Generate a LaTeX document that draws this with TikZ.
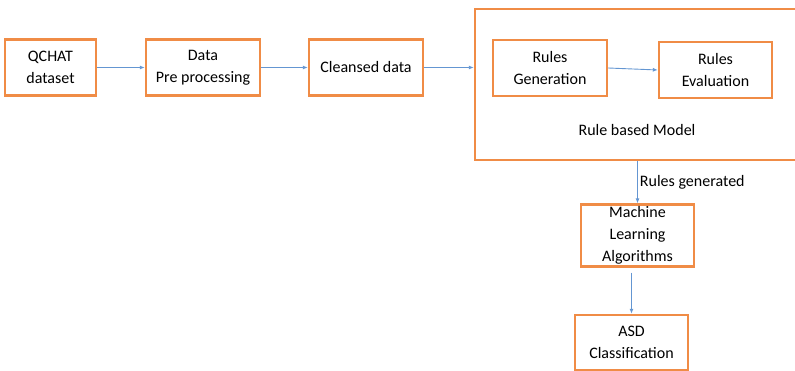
\documentclass[tikz,border=0pt]{standalone}
\usepackage{fontspec}
\setmainfont{Carlito}
\usepackage{tikz}
\usepackage{xcolor}
\usetikzlibrary{arrows.meta}

\definecolor{boxorange}{RGB}{240,140,70}
\definecolor{arrowblue}{RGB}{100,150,210}

\tikzset{
  stage/.style={draw=boxorange, line width=2.4pt, align=center, inner sep=2pt,
    font=\fontsize{16}{22}\selectfont, minimum width=#1, minimum height=56pt},
  stage/.default=114pt,
  flow/.style={draw=arrowblue, line width=0.9pt, -{Latex[length=5pt,width=4pt]}}
}

\begin{document}
\begin{tikzpicture}[x=1pt, y=-1pt]
\useasboundingbox (0,0) rectangle (795,371);

\node[stage=91pt] (qchat) at (50.5,67.5) {QCHAT\\dataset};
\node[stage] (prep) at (203,67.5) {Data\\Pre processing};
\node[stage] (clean) at (366,67.5) {Cleansed data};

\node[stage, minimum width=326pt, minimum height=151pt] (model) at (638,84.5) {};
\node[stage] (rulegen) at (550,68) {Rules\\Generation};
\node[stage=113pt] (ruleeval) at (715.5,70) {Rules\\Evaluation};
\node[font=\fontsize{16}{18}\selectfont] (modeltxt) at (637,130) {Rule based Model};

\node[stage=113pt, minimum height=59pt] (mlalgo) at (637.5,235.5) {Machine\\Learning\\Algorithms};
\node[stage=113pt, minimum height=55pt] (asd) at (631.5,342.5) {ASD\\Classification};

\draw[flow] (qchat.east) -- (prep.west);
\draw[flow] (prep.east) -- (clean.west);
\draw[flow] (clean.east) -- (clean.east -| model.west);
\draw[flow] (rulegen.east) -- (ruleeval.west);

\draw[flow] (model.south -| mlalgo.north) -- node[right, inner sep=2pt, font=\fontsize{16}{18}\selectfont]{Rules generated} (mlalgo.north);
\draw[flow, shorten <=5pt] (mlalgo.south -| asd.north) -- (asd.north);
\end{tikzpicture}
\end{document}
